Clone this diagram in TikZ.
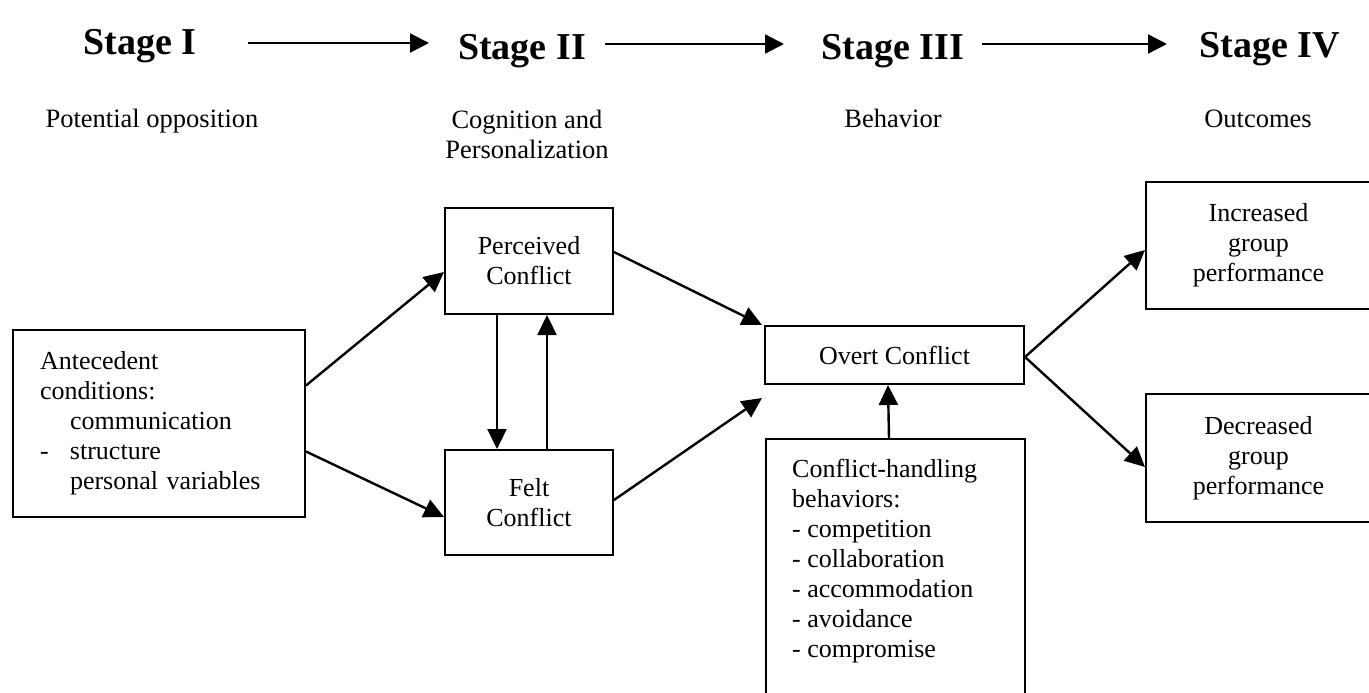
\documentclass[tikz,border=0pt]{standalone}
\usepackage{fontspec}
\setmainfont{Liberation Serif}
\usetikzlibrary{arrows.meta}
\newcommand\boxfont{\fontsize{26}{30}\selectfont}
\begin{document}
\begin{tikzpicture}[x=1pt,y=-1pt,
  box/.style={draw, line width=2pt, inner sep=0pt, font=\boxfont, align=center},
  flow/.style={line width=2.4pt, -{Triangle[length=20pt,width=19pt]}},
  stagearrow/.style={line width=2.2pt, -{Triangle[length=19pt,width=19pt]}},
  stage/.style={font=\fontsize{38}{42}\selectfont\bfseries, anchor=base},
  sub/.style={font=\fontsize{26.5}{30}\selectfont, align=center}]
\useasboundingbox (0,0) rectangle (1369,693);
\clip (0,0) rectangle (1369,693);

% stage headings
\node[stage] (s1) at (140,55) {Stage I};
\node[stage] (s2) at (522,60) {Stage II};
\node[stage] (s3) at (893,60) {Stage III};
\node[stage] (s4) at (1270,58) {Stage IV};
\coordinate (a1s) at (248,43);  \coordinate (a1e) at (429,43);
\coordinate (a2s) at (605,44);  \coordinate (a2e) at (784,44);
\coordinate (a3s) at (982,44);  \coordinate (a3e) at (1167,44);
\draw[stagearrow] (a1s) -- (a1e);
\draw[stagearrow] (a2s) -- (a2e);
\draw[stagearrow] (a3s) -- (a3e);

% stage descriptions
\node[sub, anchor=base] (d1) at (152,127) {Potential opposition};
\node[sub] (d2) at (527,134) {Cognition and\\Personalization};
\node[sub, anchor=base] (d3) at (893,127) {Behavior};
\node[sub, anchor=base] (d4) at (1258,127) {Outcomes};

% boxes
\node[box, minimum width=292, minimum height=187, text width=238, align=left]
  (ant) at (159,423.5)
  {Antecedent\\conditions:\\\hspace*{30pt}communication\\\makebox[30pt][l]{-}structure\\\hspace*{30pt}personal variables};
\node[box, minimum width=168, minimum height=106] (per) at (529,261) {Perceived\\Conflict};
\node[box, minimum width=168, minimum height=105] (felt) at (529,502.5) {Felt\\Conflict};
\node[box, minimum width=259, minimum height=58] (overt) at (894.5,355) {Overt Conflict};
\node[box, anchor=north west, minimum width=259, minimum height=300] (chb) at (765,438) {};
\node[font=\boxfont, align=left, anchor=north west, inner sep=0pt] (chbtext) at (792,459)
  {Conflict-handling\\behaviors:\\- competition\\- collaboration\\- accommodation\\- avoidance\\- compromise};
\node[box, minimum width=225, minimum height=127] (inc) at (1258.5,245.5) {Increased\\group\\performance};
\node[box, minimum width=225, minimum height=128] (dec) at (1258.5,458) {Decreased\\group\\performance};

% connectors
\draw[flow] ([yshift=38pt]ant.east) -- ([yshift=-11pt]per.west);
\draw[flow] ([yshift=-28pt]ant.east) -- ([yshift=-14.5pt]felt.west);
\draw[flow] ([xshift=-32pt]per.south) -- ([xshift=-32pt]felt.north);
\draw[flow] ([xshift=18pt]felt.north) -- ([xshift=18pt]per.south);
\draw[flow] ([yshift=9pt]per.east) -- ([xshift=-2pt]overt.north west);
\draw[flow] ([yshift=2.5pt]felt.east) -- ([xshift=-2pt,yshift=-13pt]overt.south west);
\draw[flow] ([xshift=-6.5pt]chb.north) -- ([xshift=-6.5pt]overt.south);
\draw[flow] ([yshift=-2pt]overt.east) -- ([yshift=-4.5pt]inc.west);
\draw[flow] ([yshift=-2pt]overt.east) -- ([yshift=-9pt]dec.west);
\end{tikzpicture}
\end{document}
